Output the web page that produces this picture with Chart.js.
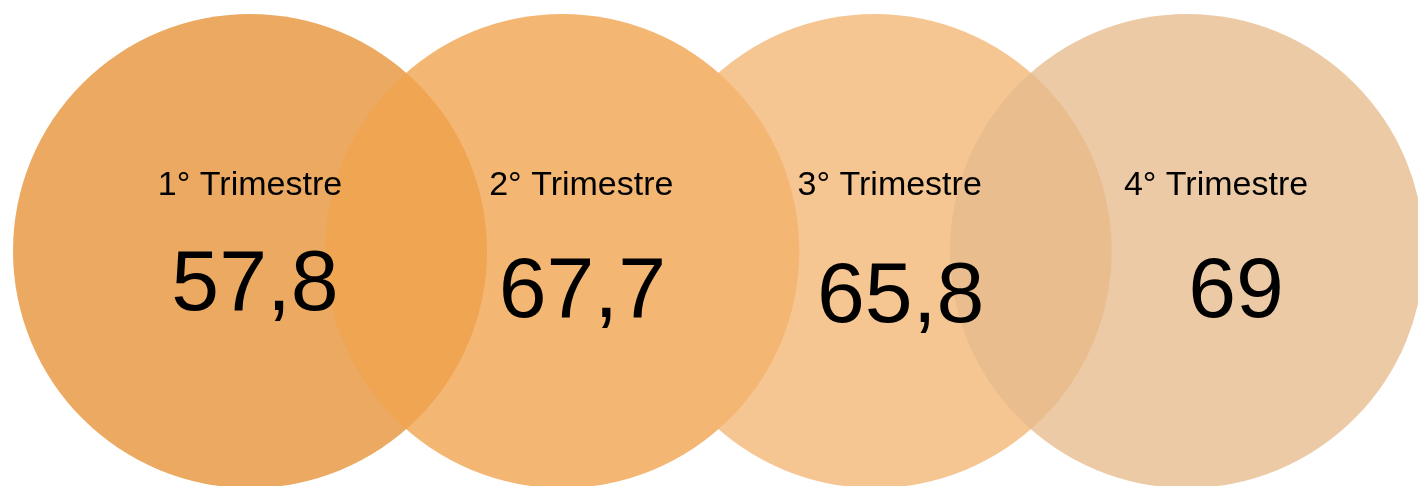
<!DOCTYPE html>
<html>
<head>
<meta charset="utf-8">
<script src="https://cdn.jsdelivr.net/npm/chart.js@4/dist/chart.umd.min.js"></script>
<style>
    html, body { margin: 0; padding: 0; background: #ffffff; }
    canvas { display: block; }
</style>
</head>
<body>
<canvas id="chart" width="1418" height="486"></canvas>
<script>
// dati trimestrali
const categories = ['1° Trimestre', '2° Trimestre', '3° Trimestre', '4° Trimestre'];
const values = [57.8, 67.7, 65.8, 69];

const circleColors = [
    'rgba(235, 169, 97, 1)',
    'rgba(241, 164, 80, 0.8)',
    'rgba(243, 182, 115, 0.78)',
    'rgba(229, 187, 140, 0.78)'
];

// piccoli spostamenti dei testi rispetto al centro del cerchio (px)
const labelShift = [0, 19, 15, 29];
const valueShift = [[5, 59], [20, 66], [26, 71], [49, 66]];

const textPlugin = {
    id: 'circleText',
    afterDatasetsDraw(chart) {
        const ctx = chart.ctx;
        const meta = chart.getDatasetMeta(0);
        ctx.save();
        ctx.fillStyle = '#000000';
        ctx.textAlign = 'center';
        ctx.textBaseline = 'alphabetic';
        meta.data.forEach((pt, i) => {
            ctx.font = '34px "Liberation Sans", Arial, sans-serif';
            ctx.fillText(categories[i], pt.x + labelShift[i], pt.y - 56);
            ctx.font = '86px "Liberation Sans", Arial, sans-serif';
            const txt = values[i].toLocaleString('it-IT');
            ctx.fillText(txt, pt.x + valueShift[i][0], pt.y + valueShift[i][1]);
        });
        ctx.restore();
    }
};

new Chart(document.getElementById('chart'), {
    type: 'bubble',
    data: {
        datasets: [{
            data: values.map((v, i) => ({ x: i, y: 0 })),
            backgroundColor: circleColors,
            borderWidth: 0,
            radius: 237,
            hoverRadius: 0,
            clip: false
        }]
    },
    options: {
        responsive: false,
        animation: false,
        events: [],
        layout: { padding: 0, autoPadding: false },
        plugins: {
            legend: { display: false },
            tooltip: { enabled: false }
        },
        scales: {
            x: { type: 'linear', display: false, min: -0.8004, max: 3.7396 },
            y: { type: 'linear', display: false, min: -1, max: 1.068 }
        }
    },
    plugins: [textPlugin]
});
</script>
</body>
</html>
